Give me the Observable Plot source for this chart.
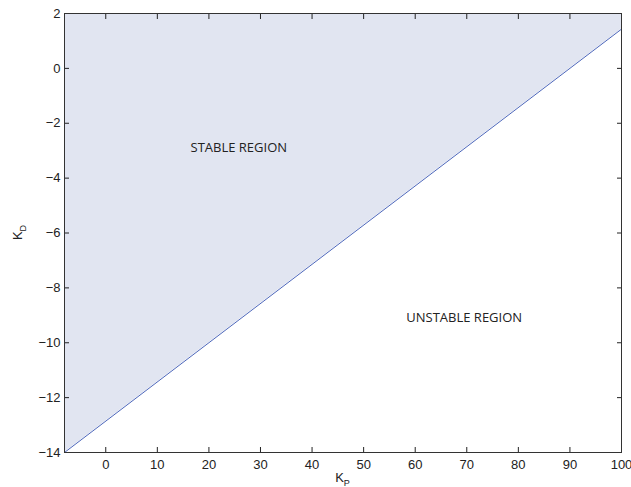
<!DOCTYPE html>
<html><head><meta charset="utf-8">
<script src="https://cdn.jsdelivr.net/npm/d3@7"></script>
<script src="https://cdn.jsdelivr.net/npm/@observablehq/plot@0.6"></script>
<style>
body{margin:0;background:#fff;}
#chart svg{display:block;}
</style>
</head><body><div id="chart"></div>
<script>
// Stability boundary K_D vs K_P
const boundaryKp = [-8, 100];
const boundaryKd = [-14, 1.43];
const xTicks = [0, 10, 20, 30, 40, 50, 60, 70, 80, 90, 100];
const yTicks = [-14, -12, -10, -8, -6, -4, -2, 0, 2];
const regionLabels = ["STABLE REGION", "UNSTABLE REGION"];
const regionKp = [25.8, 69.5];
const regionKd = [-2.9, -9.1];

const boundary = boundaryKp.map((kp, i) => ({kp, kd: boundaryKd[i]}));
const regions = regionLabels.map((t, i) => ({t, kp: regionKp[i], kd: regionKd[i]}));
const topKd = d3.max(yTicks);

const W = 631, H = 487;
const mL = 64, mR = 10, mT = 13, mB = 35;

const plot = Plot.plot({
  width: W, height: H,
  marginLeft: mL, marginRight: mR, marginTop: mT, marginBottom: mB,
  style: {fontFamily: "'Liberation Sans', Arial, sans-serif", fontSize: "13px", color: "#222", background: "#fff"},
  x: {domain: [-8, 100]},
  y: {domain: [-14, 2]},
  marks: [
    Plot.areaY(boundary, {x: "kp", y1: "kd", y2: topKd, fill: "#e1e5f1"}),
    Plot.line(boundary, {x: "kp", y: "kd", stroke: "#4d67bb", strokeWidth: 1}),
    Plot.text(regions, {x: "kp", y: "kd", text: "t", fontFamily: "'Open Sans', sans-serif", fontSize: 13, fill: "#222"}),
    Plot.axisX(xTicks, {anchor: "bottom", tickSize: -5, tickPadding: 12, label: null, stroke: "#222"}),
    Plot.axisX(xTicks, {anchor: "top", tickSize: -5, tickFormat: () => "", label: null, stroke: "#222"}),
    Plot.axisY(yTicks, {anchor: "left", tickSize: -5, tickPadding: 9, label: null, stroke: "#222", tickFormat: d => d < 0 ? "\u2212" + Math.abs(d) : String(d)}),
    Plot.axisY(yTicks, {anchor: "right", tickSize: -5, tickFormat: () => "", label: null, stroke: "#222"}),
    Plot.frame({stroke: "#333", strokeWidth: 1})
  ]
});
document.getElementById("chart").appendChild(plot);

const svg = d3.select(plot);
const cx = (mL + (W - mR)) / 2;
const cy = (mT + (H - mB)) / 2;
const xl = svg.append("text")
  .attr("x", cx).attr("y", 481.5)
  .attr("text-anchor", "middle")
  .attr("font-family", "'Liberation Sans', Arial, sans-serif")
  .attr("font-size", 13).attr("fill", "#222");
xl.append("tspan").text("K");
xl.append("tspan").attr("dy", 4).attr("font-size", 9).text("P");

const yl = svg.append("text")
  .attr("transform", `translate(22,${cy}) rotate(-90)`)
  .attr("text-anchor", "middle")
  .attr("font-family", "'Liberation Sans', Arial, sans-serif")
  .attr("font-size", 13).attr("fill", "#222");
yl.append("tspan").text("K");
yl.append("tspan").attr("dy", 4).attr("font-size", 9).text("D");
</script>
</body></html>
